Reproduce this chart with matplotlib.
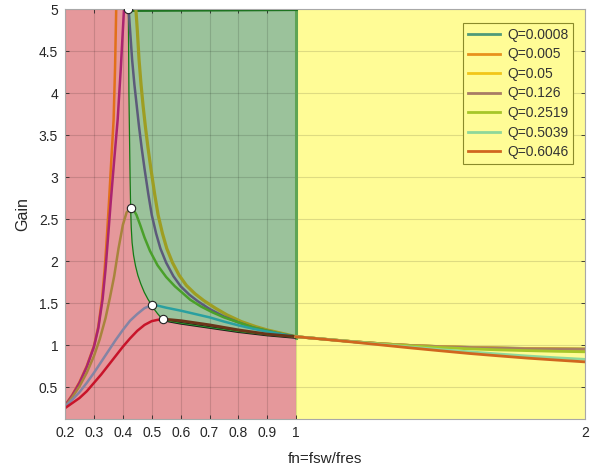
import numpy as np
import matplotlib.pyplot as plt

plt.rcParams['font.family'] = ['Liberation Sans', 'DejaVu Sans']

# legend entries (curves above resonance, fn = 1..2)
q_labels = ["Q=0.0008", "Q=0.005", "Q=0.05", "Q=0.126", "Q=0.2519", "Q=0.5039", "Q=0.6046"]
q_colors = ["#4f9a78", "#e8911c", "#f2c618", "#a87c64", "#a6c628", "#8ed89a", "#d0661e"]

fn_hi = [1.0, 1.1, 1.2, 1.3, 1.4, 1.5, 1.6, 1.7, 1.8, 1.9, 2.0]
gain_hi = [
    [1.10, 1.07, 1.04, 1.015, 0.995, 0.982, 0.973, 0.966, 0.960, 0.956, 0.953],
    [1.10, 1.07, 1.04, 1.015, 0.995, 0.982, 0.972, 0.965, 0.959, 0.955, 0.952],
    [1.10, 1.07, 1.04, 1.015, 0.995, 0.982, 0.972, 0.964, 0.958, 0.954, 0.951],
    [1.10, 1.07, 1.04, 1.015, 0.995, 0.981, 0.971, 0.963, 0.957, 0.953, 0.950],
    [1.10, 1.07, 1.04, 1.013, 0.990, 0.971, 0.955, 0.943, 0.934, 0.926, 0.920],
    [1.10, 1.07, 1.038, 1.006, 0.975, 0.946, 0.920, 0.894, 0.870, 0.849, 0.830],
    [1.10, 1.068, 1.035, 1.000, 0.965, 0.932, 0.900, 0.872, 0.845, 0.822, 0.800],
]

# capacitive side (below the peak)
fn_orange = [0.2, 0.225, 0.25, 0.275, 0.3, 0.315, 0.328, 0.337, 0.344, 0.352, 0.36, 0.368, 0.373, 0.377]
g_orange = [0.28, 0.41, 0.56, 0.75, 0.99, 1.22, 1.55, 1.9, 2.25, 2.7, 3.2, 3.68, 4.3, 5.0]
fn_magenta = [0.2, 0.225, 0.25, 0.275, 0.3, 0.315, 0.33, 0.34, 0.348, 0.358, 0.37, 0.382, 0.393, 0.404]
g_magenta = [0.28, 0.40, 0.55, 0.74, 0.98, 1.2, 1.55, 1.9, 2.25, 2.7, 3.2, 3.68, 4.3, 5.0]
fn_brown_l = [0.2, 0.225, 0.25, 0.275, 0.3, 0.32, 0.34, 0.355, 0.37, 0.385, 0.4, 0.413, 0.427]
g_brown_l = [0.27, 0.38, 0.51, 0.67, 0.87, 1.07, 1.32, 1.56, 1.82, 2.15, 2.43, 2.58, 2.63]
fn_bluegray = [0.2, 0.225, 0.25, 0.275, 0.3, 0.325, 0.35, 0.375, 0.4, 0.425, 0.45, 0.475, 0.5]
g_bluegray = [0.27, 0.35, 0.44, 0.55, 0.67, 0.80, 0.93, 1.06, 1.18, 1.29, 1.37, 1.44, 1.476]
fn_red = [0.2, 0.225, 0.25, 0.275, 0.3, 0.325, 0.35, 0.375, 0.4, 0.425, 0.45, 0.475, 0.5, 0.52, 0.54]
g_red = [0.25, 0.31, 0.37, 0.45, 0.55, 0.65, 0.76, 0.87, 0.98, 1.08, 1.17, 1.24, 1.285, 1.30, 1.306]

# inductive side (peak to resonance)
fn_gray = [0.42, 0.425, 0.432, 0.44, 0.448, 0.456, 0.465, 0.475, 0.488, 0.5, 0.515, 0.53, 0.55,
           0.575, 0.6, 0.63, 0.66, 0.7, 0.75, 0.8, 0.85, 0.9, 0.95, 1.0]
g_gray = [5.0, 4.75, 4.4, 4.1, 3.85, 3.6, 3.35, 3.1, 2.8, 2.55, 2.33, 2.15, 1.98,
          1.82, 1.70, 1.60, 1.52, 1.43, 1.34, 1.27, 1.21, 1.17, 1.13, 1.10]
fn_olive = [0.445, 0.45, 0.456, 0.463, 0.47, 0.478, 0.487, 0.497, 0.51, 0.522, 0.537, 0.552, 0.572,
            0.595, 0.62, 0.65, 0.68, 0.72, 0.76, 0.81, 0.86, 0.9, 0.95, 1.0]
g_olive = [5.0, 4.75, 4.4, 4.1, 3.85, 3.6, 3.35, 3.1, 2.8, 2.55, 2.33, 2.15, 1.98,
           1.83, 1.71, 1.61, 1.53, 1.44, 1.36, 1.28, 1.22, 1.18, 1.14, 1.10]
fn_green = [0.427, 0.437, 0.447, 0.46, 0.475, 0.494, 0.52, 0.55, 0.58, 0.61, 0.633, 0.67, 0.71,
            0.75, 0.8, 0.85, 0.9, 0.95, 1.0]
g_green = [2.63, 2.61, 2.55, 2.43, 2.28, 2.12, 1.95, 1.81, 1.70, 1.61, 1.54, 1.46, 1.39,
           1.33, 1.27, 1.21, 1.17, 1.13, 1.10]
fn_teal = [0.5, 0.52, 0.55, 0.6, 0.65, 0.7, 0.75, 0.8, 0.85, 0.9, 0.95, 1.0]
g_teal = [1.476, 1.47, 1.445, 1.41, 1.37, 1.33, 1.28, 1.235, 1.195, 1.16, 1.13, 1.10]
fn_brown_r = [0.54, 0.56, 0.6, 0.65, 0.7, 0.75, 0.8, 0.85, 0.9, 0.95, 1.0]
g_brown_r = [1.306, 1.303, 1.29, 1.265, 1.24, 1.21, 1.18, 1.155, 1.13, 1.115, 1.10]

# peak markers
fn_peak = [0.419, 0.427, 0.50, 0.54]
g_peak = [5.0, 2.63, 1.476, 1.306]

# ZVS region boundary: peak locus and lower edge
fn_locus = [0.419, 0.42, 0.421, 0.423, 0.425, 0.427, 0.429, 0.432, 0.437, 0.444, 0.452, 0.462,
            0.474, 0.487, 0.5, 0.51, 0.52, 0.53, 0.54]
g_locus = [5.0, 4.5, 4.0, 3.5, 3.0, 2.63, 2.4, 2.22, 2.07, 1.94, 1.83, 1.73,
           1.63, 1.545, 1.476, 1.42, 1.375, 1.335, 1.306]
fn_low = [0.54, 0.56, 0.6, 0.65, 0.7, 0.75, 0.8, 0.85, 0.9, 0.95, 1.0]
g_low = [1.306, 1.285, 1.26, 1.235, 1.21, 1.185, 1.16, 1.14, 1.12, 1.105, 1.09]

fig = plt.figure(figsize=(5.97, 4.74), dpi=100)
ax = fig.add_axes([0.109, 0.116, 0.871, 0.865])

ymin, ymax = 0.12, 5.0
ax.fill_between([0.2, 1.0], ymin, ymax, color="#e5989b", lw=0, zorder=0.5)
ax.fill_between([1.0, 2.0], ymin, ymax, color="#fffc96", lw=0, zorder=0.5)
zx = fn_locus + fn_low + [1.0]
zy = g_locus + g_low + [ymax]
ax.fill(zx, zy, color="#9bc29b", lw=0, zorder=0.6)

ax.plot([1.0, 1.0], [1.09, ymax], color="#5fa455", lw=2.2, zorder=1.6)
ax.plot([0.419, 1.0], [4.985, 4.995], color="#17701a", lw=2.4, zorder=1.6)
ax.plot(fn_locus, g_locus, color="#157a15", lw=0.9, zorder=1.7)
ax.plot(fn_low, g_low, color="#1b1b1b", lw=2.0, zorder=1.7)
ax.plot(fn_low, g_low, color="#2a9a2a", lw=0.7, zorder=1.8)

lw = 1.8
ax.plot(fn_orange, g_orange, color="#e2701a", lw=lw)
ax.plot(fn_magenta, g_magenta, color="#ab2470", lw=lw)
ax.plot(fn_brown_l, g_brown_l, color="#a8843c", lw=lw)
ax.plot(fn_bluegray, g_bluegray, color="#8484a4", lw=lw)
ax.plot(fn_red, g_red, color="#c8142a", lw=lw)
ax.plot(fn_olive, g_olive, color="#9e9e22", lw=lw + 0.5)
ax.plot(fn_gray, g_gray, color="#5c5a7a", lw=lw)
ax.plot(fn_green, g_green, color="#4aa02a", lw=lw)
ax.plot(fn_teal, g_teal, color="#2aa0a0", lw=lw)
ax.plot(fn_brown_r, g_brown_r, color="#6a3418", lw=lw + 0.3)

for lab, col, g in zip(q_labels, q_colors, gain_hi):
    ax.plot(fn_hi, g, color=col, lw=lw + 0.2, label=lab)

ax.plot(fn_peak, g_peak, "o", ms=6, mfc="white", mec="#222222", mew=0.8, zorder=5)

ax.set_xlim(0.2, 2.0)
ax.set_ylim(ymin, ymax)
xt = [0.2, 0.3, 0.4, 0.5, 0.6, 0.7, 0.8, 0.9, 1.0, 2.0]
ax.set_xticks(xt)
ax.set_xticklabels(["0.2", "0.3", "0.4", "0.5", "0.6", "0.7", "0.8", "0.9", "1", "2"])
yt = [0.5, 1, 1.5, 2, 2.5, 3, 3.5, 4, 4.5, 5]
ax.set_yticks(yt)
ax.set_yticklabels(["0.5", "1", "1.5", "2", "2.5", "3", "3.5", "4", "4.5", "5"])
ax.tick_params(direction="in", length=3, top=True, right=True, labelsize=10,
               colors="#262626", width=0.6, pad=5)
ax.grid(True, color="#000000", alpha=0.13, lw=0.8)
for s in ax.spines.values():
    s.set_color("#a8a8a8")
    s.set_linewidth(0.8)

ax.set_xlabel("fn=fsw/fres", fontsize=11, color="#262626", labelpad=9)
ax.set_ylabel("Gain", fontsize=11.5, color="#262626", labelpad=6)

leg = ax.legend(loc="upper right", bbox_to_anchor=(0.977, 0.966), borderaxespad=0,
                fontsize=10, handlelength=2.3, labelspacing=0.4, handletextpad=0.5,
                borderpad=0.35, fancybox=False, framealpha=1)
leg.get_frame().set_facecolor("#fffc96")
leg.get_frame().set_edgecolor("#8a8a2a")
leg.get_frame().set_linewidth(0.8)
for t in leg.get_texts():
    t.set_color("#333333")

fig.savefig("out.png", dpi=100)
